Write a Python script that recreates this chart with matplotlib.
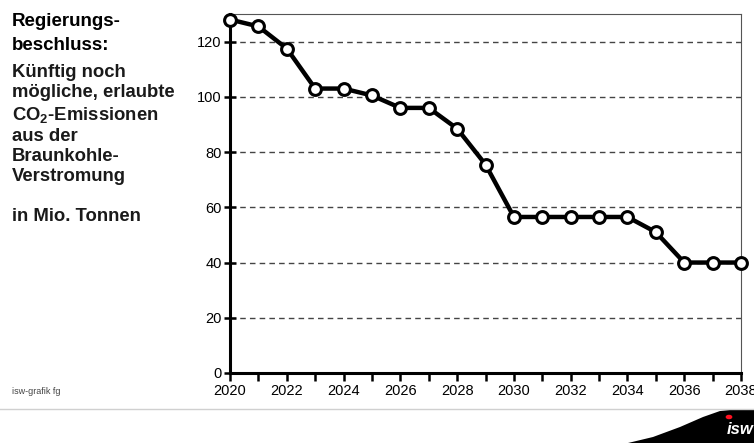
import matplotlib
matplotlib.use("Agg")
import matplotlib.pyplot as plt
from matplotlib.patches import Polygon
import numpy as np

years = list(range(2020, 2039))
values = [128, 125.5, 117.5, 103, 103, 100.5, 96, 96, 88.5, 75.5,
          56.5, 56.5, 56.5, 56.5, 56.5, 51, 40, 40, 40]
yticks = [0, 20, 40, 60, 80, 100, 120]
xticks = list(range(2020, 2039, 2))

plt.rcParams['font.family'] = ['Liberation Sans', 'DejaVu Sans']

fig = plt.figure(figsize=(7.54, 4.43), dpi=100)
W, H = 754, 443
ax = fig.add_axes([230 / W, 1 - 373 / H, (741 - 230) / W, (373 - 14) / H])

ax.plot(years, values, color='black', lw=3.2, marker='o', ms=8.5,
        mfc='white', mec='black', mew=2.2, zorder=5, clip_on=False)

ax.set_xlim(2020, 2038)
ax.set_ylim(0, 130)
ax.set_yticks(yticks)
ax.set_xticks(xticks)
ax.set_xticks(years, minor=True)
ax.tick_params(axis='x', which='both', direction='out', length=6, width=1.8,
               labelsize=10.5, color='black', pad=2)
ax.tick_params(axis='y', which='both', direction='inout', length=8, width=1.8,
               labelsize=10.5, color='black', pad=2)
for y in yticks[1:]:
    ax.axhline(y, color='#444444', lw=1.0, ls=(0, (4, 3)), zorder=1)

for s in ['left', 'bottom']:
    ax.spines[s].set_linewidth(2.2)
    ax.spines[s].set_color('black')
for s in ['top', 'right']:
    ax.spines[s].set_linewidth(0.8)
    ax.spines[s].set_color('#555555')

# Left text
fig.text(12 / W, 1 - 13 / H, "Regierungs-\nbeschluss:", fontsize=13.5,
         fontweight='heavy', va='top', ha='left', linespacing=1.5)
fig.text(12 / W, 1 - 64 / H,
         "Künftig noch\nmögliche, erlaubte\nCO$_\\mathregular{2}$-Emissionen\naus der\nBraunkohle-\nVerstromung\n\nin Mio. Tonnen",
         fontsize=13.3, fontweight='bold', va='top', ha='left', linespacing=1.24,
         color='#1a1a1a')
fig.text(12 / W, 1 - 392 / H, "isw-grafik fg", fontsize=6.5, va='center',
         ha='left', color='#444444')

# bottom separator line
fig.add_artist(plt.Line2D([0, 1], [1 - 409 / H, 1 - 409 / H],
                          color='#d0d0d0', lw=1.0, transform=fig.transFigure))

# logo swoosh
pts = [(628, 443), (653, 437), (680, 427), (703, 417), (720, 411),
       (735, 409.5), (754, 409.5), (754, 443)]
pts = [(x / W, 1 - y / H) for x, y in pts]
fig.add_artist(Polygon(pts, closed=True, transform=fig.transFigure,
                       facecolor='black', edgecolor='none'))
fig.text(727 / W, 1 - 429 / H, "isw", fontsize=12, fontweight='heavy',
         style='italic', color='white', ha='left', va='center')
fig.add_artist(plt.Circle((729 / W, 1 - 417 / H), 0.0035, color='#ff1020',
                          transform=fig.transFigure))

fig.savefig("out.png", dpi=100)
